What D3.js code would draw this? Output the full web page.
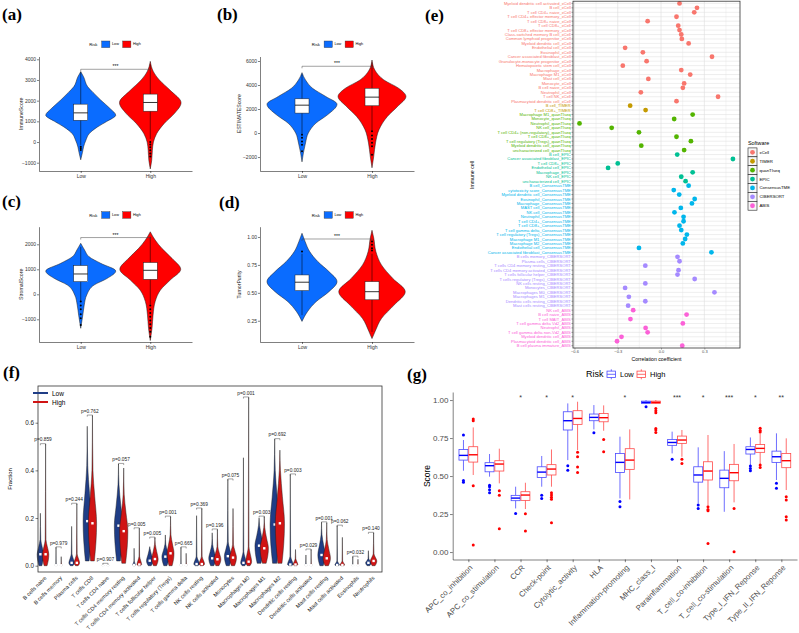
<!DOCTYPE html>
<html>
<head>
<meta charset="utf-8">
<script src="https://cdn.jsdelivr.net/npm/d3@7/dist/d3.min.js"></script>
<style>
  body { margin: 0; background: #fff; }
  #fig { display: block; font-family: "Liberation Sans", Arial, sans-serif; }
  .plabel { font-family: "Liberation Serif", "Times New Roman", serif; font-weight: bold; font-size: 17px; }
</style>
</head>
<body>
<svg id="fig" width="799" height="633"></svg>
<script>
// ===================== data =====================
const riskGroups = ["Low", "High"];

// (a)-(d): violin outline as [value, relative width]; box as [lower whisker, q1, median, q3, upper whisker]
const immuneShapeLow = [[-860, 0], [-500, 0.05], [-240, 0.08], [100, 0.15], [400, 0.24], [730, 0.48], [1000, 0.75], [1300, 1.0], [1600, 0.85], [2030, 0.57], [2400, 0.35], [2670, 0.2], [3160, 0.08], [3400, 0]];
const immuneShapeHigh = [[-1300, 0], [-900, 0.04], [-400, 0.06], [0, 0.09], [400, 0.18], [900, 0.4], [1400, 0.7], [1900, 0.88], [2500, 0.57], [3000, 0.26], [3400, 0.09], [3900, 0]];
const immuneBox = [[-150, 1053, 1410, 1831, 3400], [150, 1490, 1912, 2317, 3750]];
const immuneOutliers = [[-230, -300, -380], [0, -120, -250, -400, -550, -700]];
const immuneTicks = [-1000, 0, 1000, 2000, 3000, 4000];
const immuneBracket = 3517;

const estimateShapeLow = [[-2400, 0], [-1660, 0.04], [-830, 0.1], [0, 0.18], [830, 0.4], [1520, 0.73], [2400, 1.0], [3040, 0.68], [3730, 0.3], [4420, 0.1], [5030, 0]];
const estimateShapeHigh = [[-2900, 0], [-1935, 0.05], [-830, 0.1], [280, 0.2], [1380, 0.44], [2210, 0.73], [3040, 0.97], [3730, 0.76], [4420, 0.34], [5250, 0.08], [6080, 0]];
const estimateBox = [[-100, 1660, 2320, 2850, 4900], [200, 2270, 2990, 3730, 5900]];
const estimateOutliers = [[-140, -400, -700, -970, -1520], [140, -200, -500, -800, -1100, -1800]];
const estimateTicks = [-2000, 0, 2000, 4000, 6000];
const estimateBracket = 5560;

const stromalShapeLow = [[-1360, 0], [-830, 0.06], [-430, 0.1], [-30, 0.17], [370, 0.38], [640, 0.76], [930, 1.0], [1240, 0.57], [1500, 0.24], [1770, 0.11], [2040, 0]];
const stromalShapeHigh = [[-1850, 0], [-1360, 0.05], [-830, 0.08], [-290, 0.14], [170, 0.29], [570, 0.57], [1000, 0.87], [1440, 0.62], [1840, 0.33], [2170, 0.14], [2500, 0]];
const stromalBox = [[-300, 507, 813, 1150, 1900], [-400, 600, 960, 1270, 2300]];
const stromalOutliers = [[-290, -450, -600, -800, -960, -1230], [-450, -600, -750, -900, -1050, -1200, -1350, -1500, -1700]];
const stromalTicks = [-1000, 0, 1000, 2000];
const stromalBracket = 2270;

const purityShapeLow = [[0.244, 0], [0.333, 0.16], [0.42, 0.4], [0.51, 0.77], [0.6, 1.0], [0.69, 0.77], [0.78, 0.45], [0.869, 0.22], [0.958, 0.09], [1.033, 0]];
const purityShapeHigh = [[0.09, 0], [0.155, 0.09], [0.27, 0.27], [0.39, 0.63], [0.51, 0.95], [0.63, 0.59], [0.75, 0.27], [0.87, 0.11], [0.99, 0.05], [1.06, 0]];
const purityBox = [[0.3, 0.52, 0.595, 0.66, 0.85], [0.15, 0.4375, 0.51, 0.6, 0.85]];
const purityOutliers = [[0.869], [0.88, 0.9, 0.93, 0.96]];
const purityTicks = [0.25, 0.5, 0.75, 1.0];
const purityBracket = 0.982;

// (e) correlation of risk score with immune cells
const softwares = ["xCell", "TIMER", "quanTIseq", "EPIC", "ConsensusTME", "CIBERSORT", "ABIS"];
const cellTypes = [
  "Myeloid dendritic cell activated_xCell", "B cell_xCell", "T cell CD4+ naive_xCell", "T cell CD4+ effector memory_xCell",
  "T cell CD8+ naive_xCell", "T cell CD8+_xCell", "T cell CD8+ effector memory_xCell", "Class-switched memory B cell_xCell",
  "Common lymphoid progenitor_xCell", "Myeloid dendritic cell_xCell", "Endothelial cell_xCell", "Eosinophil_xCell",
  "Cancer associated fibroblast_xCell", "Granulocyte-monocyte progenitor_xCell", "Hematopoietic stem cell_xCell",
  "Macrophage_xCell", "Macrophage M1_xCell", "Mast cell_xCell", "Monocyte_xCell", "B cell naive_xCell",
  "Neutrophil_xCell", "T cell NK_xCell", "Plasmacytoid dendritic cell_xCell",
  "B cell_TIMER", "T cell CD8+_TIMER",
  "Macrophage M1_quanTIseq", "Monocyte_quanTIseq", "Neutrophil_quanTIseq", "NK cell_quanTIseq",
  "T cell CD4+ (non-regulatory)_quanTIseq", "T cell CD8+_quanTIseq", "T cell regulatory (Tregs)_quanTIseq",
  "Myeloid dendritic cell_quanTIseq", "uncharacterized cell_quanTIseq",
  "B cell_EPIC", "Cancer associated fibroblast_EPIC", "T cell CD8+_EPIC", "Endothelial cell_EPIC",
  "Macrophage_EPIC", "NK cell_EPIC", "uncharacterized cell_EPIC",
  "B cell_ConsensusTME", "cytotoxicity score_ConsensusTME", "Myeloid dendritic cell_ConsensusTME",
  "Eosinophil_ConsensusTME", "Macrophage_ConsensusTME", "MAST cell_ConsensusTME", "NK cell_ConsensusTME",
  "Neutrophil_ConsensusTME", "T cell CD4+_ConsensusTME", "T cell CD8+_ConsensusTME",
  "T cell gamma delta_ConsensusTME", "T cell regulatory (Tregs)_ConsensusTME", "Macrophage M1_ConsensusTME",
  "Macrophage M2_ConsensusTME", "Endothelial cell_ConsensusTME", "Cancer associated fibroblast_ConsensusTME",
  "B cells memory_CIBERSORT", "Plasma cells_CIBERSORT", "T cells CD4 memory resting_CIBERSORT",
  "T cells CD4 memory activated_CIBERSORT", "T cells follicular helper_CIBERSORT",
  "T cells regulatory (Tregs)_CIBERSORT", "NK cells resting_CIBERSORT", "Monocytes_CIBERSORT",
  "Macrophages M0_CIBERSORT", "Macrophages M1_CIBERSORT", "Dendritic cells resting_CIBERSORT",
  "Mast cells resting_CIBERSORT",
  "NK cell_ABIS", "B cell naive_ABIS", "T cell MAIT_ABIS", "T cell gamma delta Vd2_ABIS", "Neutrophil_ABIS",
  "T cell gamma delta non-Vd2_ABIS", "Myeloid dendritic cell_ABIS", "Plasmacytoid dendritic cell_ABIS",
  "B cell plasma immature_ABIS"
];
const correlations = [
  0.128, 0.249, 0.230, 0.107, -0.093, 0.119, 0.128, 0.140, 0.144, 0.191, -0.249, -0.126, 0.353, -0.100, -0.265,
  0.140, 0.202, -0.088, 0.160, 0.151, -0.140, 0.395, 0.107,
  -0.214, -0.107,
  0.219, 0.091, -0.565, -0.342, -0.153, 0.107, 0.207, -0.137, 0.160,
  0.112, 0.498, -0.300, -0.367, 0.219, 0.140, 0.170,
  0.191, 0.088, 0.126, 0.233, 0.214, 0.137, 0.093, 0.156, 0.156, 0.128, 0.140, 0.179, 0.167, 0.151, -0.153, 0.349,
  0.114, 0.128, -0.109, 0.121, 0.114, 0.233, -0.109, -0.249, 0.370, -0.223, -0.109, -0.228,
  -0.193, 0.177, -0.212, 0.151, -0.107, -0.093, -0.274, -0.305, 0.147
];

// (f) CIBERSORT fractions; each violin = [min, median, end of bulk, max, relative width]
const ciberCells = [
  "B cells naive", "B cells memory", "Plasma cells", "T cells CD8", "T cells CD4 naive",
  "T cells CD4 memory resting", "T cells CD4 memory activated", "T cells follicular helper",
  "T cells regulatory (Tregs)", "T cells gamma delta", "NK cells resting", "NK cells activated",
  "Monocytes", "Macrophages M0", "Macrophages M1", "Macrophages M2", "Dendritic cells resting",
  "Dendritic cells activated", "Mast cells resting", "Mast cells activated", "Eosinophils", "Neutrophils"
];
const ciberPvalues = ["p=0.859", "p=0.979", "p=0.244", "p=0.762", "p=0.907", "p=0.057", "p=0.005", "p=0.005",
  "p=0.001", "p=0.665", "p=0.369", "p=0.196", "p=0.075", "p=0.001", "p=0.003", "p=0.692", "p=0.003",
  "p=0.029", "p=0.001", "p=0.062", "p=0.032", "p=0.140"];
const ciberLow = [
  [0, 0.048, 0.11, 0.22, 0.7], [0, 0.002, 0.01, 0.077, 0.2], [0, 0.012, 0.05, 0.165, 0.6],
  [0.02, 0.187, 0.42, 0.585, 0.9], [0, 0.002, 0.005, 0.008, 0.2], [0.02, 0.168, 0.34, 0.427, 0.9],
  [0, 0.003, 0.02, 0.073, 0.3], [0, 0.021, 0.07, 0.08, 0.7], [0, 0.038, 0.09, 0.129, 0.75],
  [0, 0.002, 0.01, 0.077, 0.2], [0, 0.007, 0.04, 0.21, 0.6], [0, 0.031, 0.09, 0.138, 0.75],
  [0, 0.04, 0.1, 0.362, 0.75], [0, 0.012, 0.06, 0.453, 0.6], [0.01, 0.084, 0.17, 0.2, 0.9],
  [0.01, 0.173, 0.4, 0.531, 1.0], [0, 0.005, 0.04, 0.383, 0.6], [0, 0.002, 0.01, 0.045, 0.2],
  [0, 0.045, 0.13, 0.182, 0.8], [0, 0.003, 0.02, 0.168, 0.5], [0, 0.001, 0.005, 0.038, 0.2],
  [0, 0.012, 0.03, 0.063, 0.6]
];
const ciberHigh = [
  [0, 0.048, 0.11, 0.51, 0.7], [0, 0.002, 0.01, 0.038, 0.2], [0, 0.012, 0.05, 0.26, 0.6],
  [0.02, 0.178, 0.4, 0.63, 0.9], [0, 0.002, 0.005, 0.007, 0.2], [0.01, 0.145, 0.3, 0.41, 0.9],
  [0, 0.005, 0.04, 0.157, 0.5], [0, 0.028, 0.09, 0.118, 0.7], [0, 0.052, 0.13, 0.206, 0.75],
  [0, 0.002, 0.01, 0.052, 0.2], [0, 0.007, 0.04, 0.24, 0.6], [0, 0.027, 0.08, 0.152, 0.75],
  [0, 0.034, 0.09, 0.24, 0.75], [0, 0.017, 0.08, 0.706, 0.65], [0.01, 0.073, 0.16, 0.206, 0.9],
  [0.01, 0.178, 0.4, 0.485, 1.0], [0, 0.005, 0.03, 0.068, 0.5], [0, 0.002, 0.01, 0.068, 0.2],
  [0, 0.031, 0.11, 0.18, 0.8], [0, 0.003, 0.02, 0.119, 0.5], [0, 0.001, 0.005, 0.027, 0.2],
  [0, 0.02, 0.05, 0.138, 0.7]
];

// (g) immune function scores; box = [lower whisker, q1, median, q3, upper whisker]
const funcCategories = ["APC_co_inhibition", "APC_co_stimulation", "CCR", "Check-point", "Cytolytic_activity", "HLA",
  "Inflammation-promoting", "MHC_class_I", "Parainflammation", "T_cell_co-inhibition", "T_cell_co-stimulation",
  "Type_I_IFN_Reponse", "Type_II_IFN_Reponse"];
const funcSignif = ["", "", "*", "*", "*", "", "*", "", "***", "*", "***", "*", "**"];
const funcLowBox = [
  [0.535, 0.605, 0.636, 0.675, 0.737], [0.496, 0.528, 0.568, 0.588, 0.645], [0.287, 0.338, 0.355, 0.373, 0.43],
  [0.43, 0.491, 0.526, 0.561, 0.632], [0.605, 0.803, 0.864, 0.923, 0.978], [0.807, 0.864, 0.886, 0.908, 0.967],
  [0.353, 0.524, 0.59, 0.649, 0.759], [0.975, 0.978, 0.985, 0.993, 1.0], [0.649, 0.702, 0.721, 0.741, 0.792],
  [0.32, 0.46, 0.507, 0.561, 0.689], [0.265, 0.423, 0.485, 0.539, 0.664], [0.572, 0.645, 0.675, 0.693, 0.754],
  [0.474, 0.59, 0.627, 0.664, 0.781]
];
const funcHighBox = [
  [0.507, 0.592, 0.64, 0.693, 0.82], [0.452, 0.533, 0.579, 0.601, 0.68], [0.283, 0.34, 0.375, 0.397, 0.456],
  [0.43, 0.507, 0.546, 0.575, 0.675], [0.671, 0.84, 0.879, 0.93, 0.989], [0.798, 0.857, 0.884, 0.912, 0.965],
  [0.346, 0.544, 0.605, 0.68, 0.807], [0.975, 0.978, 0.985, 0.993, 1.0], [0.627, 0.715, 0.737, 0.763, 0.803],
  [0.309, 0.474, 0.533, 0.594, 0.77], [0.327, 0.469, 0.522, 0.577, 0.711], [0.579, 0.656, 0.682, 0.708, 0.78],
  [0.408, 0.555, 0.601, 0.649, 0.748]
];
const funcLowOutliers = [
  [0.77, 0.47, 0.46], [0.44, 0.43, 0.41, 0.39], [0.254], [0.373, 0.353], [0.568, 0.539], [0.785],
  [0.333, 0.298], [0.956], [0.61], [0.309, 0.287], [], [0.566, 0.55, 0.535], [0.452, 0.419]
];
const funcHighOutliers = [
  [0.864, 0.875, 0.436, 0.046], [0.404, 0.373, 0.154], [0.252, 0.138], [0.39, 0.375, 0.36, 0.347, 0.193],
  [0.656, 0.627, 0.559, 0.524], [0.741, 0.66], [], [0.945, 0.93, 0.917, 0.813, 0.803, 0.787], [0.61, 0.583],
  [0.298, 0.28, 0.272, 0.057], [0.287, 0.002], [0.814, 0.8, 0.79, 0.572, 0.557], [0.364, 0.342, 0.232, 0.211]
];

// ===================== drawing =====================
const fig = d3.select("#fig");

function axisStyle(a, size, color) {
  a.attr("font-size", size).attr("font-family", null);
  a.selectAll("path, line").attr("stroke", "#000").attr("stroke-width", 0.5);
  a.selectAll("text").attr("fill", color || "#333");
}

function panelLabel(text, x, y) {
  fig.append("text").attr("class", "plabel").attr("x", x).attr("y", y).text(text);
}

// (a)-(d) violin + box panels
function drawScorePanel(p) {
  const g = fig.append("g");
  const riskFill = ["#0a6cff", "#ff0000"];
  const x = d3.scalePoint().domain(riskGroups).range([p.left, p.right]).padding(0.6);
  const y = d3.scaleLinear().domain(p.domain).range([p.bottom, p.top]);
  const halfW = 35, boxW = 14;

  riskGroups.forEach((grp, i) => {
    const cx = x(grp);
    const b = p.box[i];
    const violin = d3.area()
      .curve(d3.curveMonotoneY)
      .y(d => y(d[0]))
      .x0(d => cx - d[1] * halfW)
      .x1(d => cx + d[1] * halfW);

    g.append("path")
      .attr("d", violin(p.shapes[i]))
      .attr("fill", riskFill[i])
      .attr("stroke", "#1a1a1a")
      .attr("stroke-width", 0.5);

    g.append("line")
      .attr("x1", cx).attr("x2", cx)
      .attr("y1", y(b[0])).attr("y2", y(b[4]))
      .attr("stroke", "#000").attr("stroke-width", 0.5);

    g.append("rect")
      .attr("x", cx - boxW / 2).attr("width", boxW)
      .attr("y", y(b[3])).attr("height", y(b[1]) - y(b[3]))
      .attr("fill", "#fff").attr("stroke", "#222").attr("stroke-width", 0.5);

    g.append("line")
      .attr("x1", cx - boxW / 2).attr("x2", cx + boxW / 2)
      .attr("y1", y(b[2])).attr("y2", y(b[2]))
      .attr("stroke", "#000").attr("stroke-width", 0.8);

    g.selectAll(null).data(p.outliers[i]).enter().append("circle")
      .attr("cx", cx).attr("cy", d => y(d)).attr("r", 1)
      .attr("fill", "#000");
  });

  // significance bracket
  const by = y(p.bracket);
  g.append("path")
    .attr("d", `M${x("Low")},${by + 2}V${by}H${x("High")}V${by + 2}`)
    .attr("fill", "none").attr("stroke", "#444").attr("stroke-width", 0.5);
  g.append("text")
    .attr("x", (x("Low") + x("High")) / 2).attr("y", by - 1)
    .attr("text-anchor", "middle").attr("font-size", 5).text("***");

  g.append("g").attr("transform", `translate(${p.left},0)`)
    .call(d3.axisLeft(y).tickValues(p.ticks).tickFormat(p.format).tickSize(2).tickSizeOuter(0).tickPadding(1))
    .call(a => axisStyle(a, 5));
  g.append("g").attr("transform", `translate(0,${p.bottom})`)
    .call(d3.axisBottom(x).tickSize(2).tickSizeOuter(0).tickPadding(1))
    .call(a => axisStyle(a, 5));

  g.append("text")
    .attr("transform", `translate(${p.titleX},${(p.top + p.bottom) / 2}) rotate(-90)`)
    .attr("text-anchor", "middle").attr("dominant-baseline", "central")
    .attr("font-size", 5.2).attr("fill", "#222").text(p.title);

  // legend
  const lx = p.legendX, ly = p.legendY;
  g.append("text").attr("x", lx).attr("y", ly).attr("dominant-baseline", "central")
    .attr("font-size", 4.2).text("Risk");
  riskGroups.forEach((grp, i) => {
    const kx = lx + 12.4 + i * 21;
    g.append("rect").attr("x", kx).attr("y", ly - 3.3).attr("width", 8.2).attr("height", 6.6)
      .attr("fill", riskFill[i]).attr("stroke", "#333").attr("stroke-width", 0.4);
    g.append("text").attr("x", kx + 10.3).attr("y", ly).attr("dominant-baseline", "central")
      .attr("font-size", 3.8).text(grp);
  });
}

// (e) lollipop-free dot plot of correlations
function drawCorrelationPanel() {
  const g = fig.append("g");
  const left = 573, right = 740, top = 1.2, bottom = 348;
  const x = d3.scaleLinear().domain([-0.61, 0.547]).range([left, right]);
  const y = d3.scalePoint().domain(cellTypes).range([3.4, 345.7]);
  const color = d3.scaleOrdinal().domain(softwares)
    .range(["#F8766D", "#C49A00", "#53B400", "#00C094", "#00B6EB", "#A58AFF", "#FB61D7"]);
  const softwareOf = name => name.slice(name.lastIndexOf("_") + 1);

  g.selectAll(".hgrid").data(cellTypes).enter().append("line")
    .attr("x1", left).attr("x2", right)
    .attr("y1", d => y(d)).attr("y2", d => y(d))
    .attr("stroke", "#d9d9d9").attr("stroke-width", 0.45);
  g.selectAll(".vminor").data([-0.45, -0.15, 0.15, 0.45]).enter().append("line")
    .attr("x1", d => x(d)).attr("x2", d => x(d)).attr("y1", top).attr("y2", bottom)
    .attr("stroke", "#e6e6e6").attr("stroke-width", 0.4);
  g.selectAll(".vmajor").data([-0.6, -0.3, 0, 0.3]).enter().append("line")
    .attr("x1", d => x(d)).attr("x2", d => x(d)).attr("y1", top).attr("y2", bottom)
    .attr("stroke", "#dcdcdc").attr("stroke-width", 0.6);

  g.selectAll(".dot").data(cellTypes).enter().append("circle")
    .attr("cx", (d, i) => x(correlations[i]))
    .attr("cy", d => y(d))
    .attr("r", 2.4)
    .attr("fill", d => color(softwareOf(d)));

  g.append("rect").attr("x", left).attr("y", top).attr("width", right - left).attr("height", bottom - top)
    .attr("fill", "none").attr("stroke", "#333").attr("stroke-width", 0.8);

  // y axis
  g.selectAll(".ytick").data(cellTypes).enter().append("line")
    .attr("x1", left - 1.6).attr("x2", left).attr("y1", d => y(d)).attr("y2", d => y(d))
    .attr("stroke", "#333").attr("stroke-width", 0.4);
  g.selectAll(".ylab").data(cellTypes).enter().append("text")
    .attr("x", left - 2.2).attr("y", d => y(d))
    .attr("text-anchor", "end").attr("dominant-baseline", "central")
    .attr("font-size", 4.1)
    .attr("fill", d => color(softwareOf(d)))
    .text(d => d);

  // x axis
  g.append("g").attr("transform", `translate(0,${bottom})`)
    .call(d3.axisBottom(x).tickValues([-0.6, -0.3, 0, 0.3]).tickFormat(d3.format(".1f")).tickSize(1.6).tickPadding(0.8))
    .call(a => {
      axisStyle(a, 4, "#4d4d4d");
      a.select(".domain").remove();
      a.selectAll("line").attr("stroke", "#333").attr("stroke-width", 0.4);
    });

  g.append("text").attr("x", (left + right) / 2).attr("y", 359).attr("text-anchor", "middle")
    .attr("dominant-baseline", "central").attr("font-size", 5.2).text("Correlation coefficient");
  g.append("text").attr("transform", "translate(472,175) rotate(-90)").attr("text-anchor", "middle")
    .attr("dominant-baseline", "central").attr("font-size", 5.2).text("Immune cell");

  // legend
  const lg = g.append("g").attr("transform", "translate(748,0)");
  lg.append("text").attr("x", 0).attr("y", 143).attr("dominant-baseline", "central")
    .attr("font-size", 5.4).text("Software");
  const keyH = 8.9;
  softwares.forEach((s, i) => {
    const ky = 147.9 + i * keyH;
    lg.append("rect").attr("x", 0).attr("y", ky).attr("width", 9).attr("height", keyH)
      .attr("fill", "#f7f7f7").attr("stroke", "#222").attr("stroke-width", 0.6);
    lg.append("circle").attr("cx", 4.5).attr("cy", ky + keyH / 2).attr("r", 2.4).attr("fill", color(s));
    lg.append("text").attr("x", 11.5).attr("y", ky + keyH / 2).attr("dominant-baseline", "central")
      .attr("font-size", 4.3).text(s);
  });
}

// (f) CIBERSORT split violins
function drawCibersortPanel() {
  const g = fig.append("g");
  const left = 38, right = 382, top = 386, bottom = 572;
  const x = d3.scalePoint().domain(ciberCells).range([43, 371]);
  const y = d3.scaleLinear().domain([-0.0264, 0.754]).range([bottom, top]);
  const cols = ["#1f3d86", "#d01414"];
  const halfW = 4.6, shift = 2.6;

  const violinPath = (cx, v) => {
    const [mn, med, bulk, mx, w] = v;
    const pts = [[mn, 0.45 * w], [(mn + med) / 2, 0.85 * w], [med, w], [(med + bulk) / 2, 0.55 * w], [bulk, 0.12 * w], [mx, 0]];
    return d3.area().curve(d3.curveMonotoneY)
      .y(d => y(d[0]))
      .x0(d => cx - d[1] * halfW)
      .x1(d => cx + d[1] * halfW)(pts);
  };

  ciberCells.forEach((cell, i) => {
    const cx = x(cell);
    [ciberLow[i], ciberHigh[i]].forEach((v, k) => {
      const vx = cx + (k === 0 ? -shift : shift);
      g.append("path").attr("d", violinPath(vx, v))
        .attr("fill", cols[k]).attr("stroke", "#1a1a1a").attr("stroke-width", 0.45);
      g.append("rect").attr("x", vx - 1.2).attr("y", y(v[1]) - 1.2).attr("width", 2.4).attr("height", 2.4)
        .attr("fill", "#fff");
    });
    const by = y(Math.max(ciberLow[i][3], ciberHigh[i][3])) - 0.5;
    g.append("path")
      .attr("d", `M${cx - shift},${by + 1.6}V${by}H${cx + shift}V${by + 1.6}`)
      .attr("fill", "none").attr("stroke", "#333").attr("stroke-width", 0.45);
    g.append("text").attr("x", cx).attr("y", by - 2.2).attr("text-anchor", "middle")
      .attr("font-size", 4.8).attr("fill", "#222").text(ciberPvalues[i]);
  });

  g.append("rect").attr("x", left).attr("y", top).attr("width", right - left).attr("height", bottom - top)
    .attr("fill", "none").attr("stroke", "#333").attr("stroke-width", 0.8);

  g.append("g").attr("transform", `translate(${left},0)`)
    .call(d3.axisLeft(y).tickValues([0, 0.2, 0.4, 0.6]).tickFormat(d3.format(".1f")).tickSize(2.5).tickPadding(1.5))
    .call(a => { axisStyle(a, 6.3, "#222"); a.select(".domain").remove(); });

  g.append("g").attr("transform", `translate(0,${bottom})`)
    .call(d3.axisBottom(x).tickSize(0).tickPadding(0))
    .call(a => {
      axisStyle(a, 5.5, "#222");
      a.select(".domain").remove();
      a.selectAll("text")
        .attr("y", 0).attr("dy", null)
        .attr("text-anchor", "end").attr("dominant-baseline", "central")
        .attr("transform", "translate(2,5) rotate(-45)");
    });

  g.append("text").attr("transform", "translate(10,479) rotate(-90)").attr("text-anchor", "middle")
    .attr("dominant-baseline", "central").attr("font-size", 6).text("Fraction");

  riskGroups.forEach((grp, k) => {
    const ly = 393 + k * 9;
    g.append("line").attr("x1", 33).attr("x2", 48).attr("y1", ly).attr("y2", ly)
      .attr("stroke", cols[k]).attr("stroke-width", 2);
    g.append("text").attr("x", 52).attr("y", ly).attr("dominant-baseline", "central")
      .attr("font-size", 6.5).text(grp);
  });
}

// (g) immune function boxplots
function drawFunctionPanel() {
  const g = fig.append("g");
  const left = 452.7, right = 797, top = 392, bottom = 559.5;
  const x = d3.scalePoint().domain(funcCategories).range([left, right]).padding(0.6);
  const y = d3.scaleLinear().domain([-0.049, 1.053]).range([bottom, top]);
  const lineCols = ["#4a4aff", "#ff4a4a"];
  const dotCols = ["#0000ff", "#ff0000"];
  const bw = x.step() * 0.375;

  funcCategories.forEach((cat, i) => {
    const cx = x(cat);
    [[funcLowBox[i], funcLowOutliers[i]], [funcHighBox[i], funcHighOutliers[i]]].forEach(([b, outs], k) => {
      const bx = cx + (k === 0 ? -bw / 2 : bw / 2);
      g.append("line").attr("x1", bx).attr("x2", bx).attr("y1", y(b[0])).attr("y2", y(b[4]))
        .attr("stroke", lineCols[k]).attr("stroke-width", 0.8);
      g.append("rect").attr("x", bx - bw / 2 + 0.4).attr("width", bw - 0.8)
        .attr("y", y(b[3])).attr("height", Math.max(0.6, y(b[1]) - y(b[3])))
        .attr("fill", "#fff").attr("stroke", lineCols[k]).attr("stroke-width", 0.8);
      g.append("line").attr("x1", bx - bw / 2 + 0.4).attr("x2", bx + bw / 2 - 0.4)
        .attr("y1", y(b[2])).attr("y2", y(b[2]))
        .attr("stroke", dotCols[k]).attr("stroke-width", 1.4);
      g.selectAll(null).data(outs).enter().append("circle")
        .attr("cx", bx).attr("cy", d => y(d)).attr("r", 1.5).attr("fill", dotCols[k]);
    });
    if (funcSignif[i]) {
      g.append("text").attr("x", cx).attr("y", y(1.026) + 3.8).attr("text-anchor", "middle")
        .attr("font-size", 7).attr("fill", "#333").text(funcSignif[i]);
    }
  });

  g.append("g").attr("transform", `translate(${left},0)`)
    .call(d3.axisLeft(y).tickValues([0, 0.25, 0.5, 0.75, 1]).tickFormat(d3.format(".2f")).tickSize(2.7).tickSizeOuter(0).tickPadding(1.5))
    .call(a => axisStyle(a, 8, "#4d4d4d"));
  g.append("g").attr("transform", `translate(0,${bottom})`)
    .call(d3.axisBottom(x).tickSize(2.7).tickSizeOuter(0))
    .call(a => {
      axisStyle(a, 7.8, "#4d4d4d");
      a.selectAll("text")
        .attr("y", 0).attr("dy", null)
        .attr("text-anchor", "end").attr("dominant-baseline", "central")
        .attr("transform", "translate(2.5,7) rotate(-45)");
    });

  g.append("text").attr("transform", "translate(427,476) rotate(-90)").attr("text-anchor", "middle")
    .attr("dominant-baseline", "central").attr("font-size", 8.5).text("Score");

  // legend
  const ly = 374.3;
  g.append("text").attr("x", 586).attr("y", ly).attr("dominant-baseline", "central")
    .attr("font-size", 9).text("Risk");
  riskGroups.forEach((grp, k) => {
    const kx = 607 + k * 30;
    g.append("line").attr("x1", kx + 4.3).attr("x2", kx + 4.3).attr("y1", ly - 5).attr("y2", ly + 5)
      .attr("stroke", lineCols[k]).attr("stroke-width", 0.8);
    g.append("rect").attr("x", kx).attr("y", ly - 3.2).attr("width", 8.6).attr("height", 6.4)
      .attr("fill", "#fff").attr("stroke", lineCols[k]).attr("stroke-width", 0.8);
    g.append("line").attr("x1", kx).attr("x2", kx + 8.6).attr("y1", ly).attr("y2", ly)
      .attr("stroke", lineCols[k]).attr("stroke-width", 0.8);
    g.append("text").attr("x", kx + 13).attr("y", ly).attr("dominant-baseline", "central")
      .attr("font-size", 7.5).text(grp);
  });
}

drawScorePanel({
  shapes: [immuneShapeLow, immuneShapeHigh], box: immuneBox, outliers: immuneOutliers,
  ticks: immuneTicks, bracket: immuneBracket, format: d3.format("d"), title: "ImmuneScore",
  left: 39, right: 192, top: 56.5, bottom: 171, domain: [-1401, 4135],
  titleX: 20.7, legendX: 89.3, legendY: 44.3
});
drawScorePanel({
  shapes: [estimateShapeLow, estimateShapeHigh], box: estimateBox, outliers: estimateOutliers,
  ticks: estimateTicks, bracket: estimateBracket, format: d3.format("d"), title: "ESTIMATEScore",
  left: 260, right: 414, top: 56.5, bottom: 171, domain: [-3163, 6374],
  titleX: 239.3, legendX: 311.7, legendY: 44.3
});
drawScorePanel({
  shapes: [stromalShapeLow, stromalShapeHigh], box: stromalBox, outliers: stromalOutliers,
  ticks: stromalTicks, bracket: stromalBracket, format: d3.format("d"), title: "StromalScore",
  left: 39, right: 192, top: 226.7, bottom: 342, domain: [-1908, 2704],
  titleX: 20.7, legendX: 89.3, legendY: 215
});
drawScorePanel({
  shapes: [purityShapeLow, purityShapeHigh], box: purityBox, outliers: purityOutliers,
  ticks: purityTicks, bracket: purityBracket, format: d3.format(".2f"), title: "TumorPurity",
  left: 260, right: 414, top: 226.7, bottom: 342, domain: [0.0596, 1.092],
  titleX: 239.3, legendX: 311.7, legendY: 215
});
drawCorrelationPanel();
drawCibersortPanel();
drawFunctionPanel();

panelLabel("(a)", 2, 20);
panelLabel("(b)", 217, 20);
panelLabel("(c)", 2, 207);
panelLabel("(d)", 219, 208);
panelLabel("(e)", 425, 20.6);
panelLabel("(f)", 3, 378);
panelLabel("(g)", 407, 380);
</script>
</body>
</html>
